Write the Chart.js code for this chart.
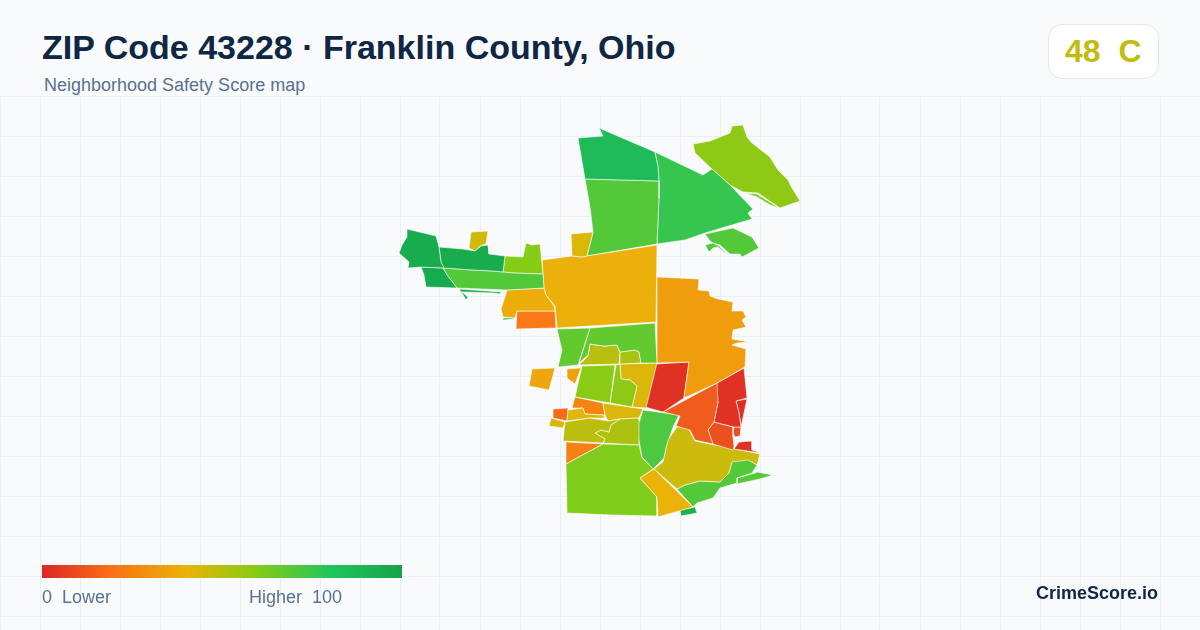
<!DOCTYPE html>
<html>
<head>
<meta charset="utf-8">
<title>ZIP Code 43228</title>
<script src="https://cdn.jsdelivr.net/npm/chart.js@4"></script>
<style>
html,body{margin:0;padding:0;background:#f8fafc;width:1200px;height:630px;overflow:hidden;font-family:"Liberation Sans",Arial,sans-serif}
#wrap{position:relative;width:1200px;height:630px}
canvas{position:absolute;left:0;top:96px}
.t{position:absolute;white-space:pre;line-height:1}
#title{left:42px;top:30px;font-size:34px;font-weight:700;color:#0f2744}
#sub{left:44px;top:76px;font-size:18px;color:#5a7190}
#badge{position:absolute;left:1048px;top:24px;width:109px;height:53px;background:#fff;border:1px solid #e2e8f0;border-radius:14px;box-sizing:content-box}
#grade{left:1065px;top:35px;font-size:32px;font-weight:700;color:#c1bd0e}
#bar{position:absolute;left:42px;top:565px;width:360px;height:13px}
#lo{left:42px;top:588px;font-size:18px;color:#5a7190}
#hi{left:249px;top:588px;font-size:18px;color:#5a7190}
#brand{right:42px;top:584px;font-size:18px;font-weight:700;color:#0f2744}
</style>
</head>
<body>
<div id="wrap">
<canvas id="c" width="1200" height="534"></canvas>
<div class="t" id="title">ZIP Code 43228 · Franklin County, Ohio</div>
<div class="t" id="sub">Neighborhood Safety Score map</div>
<div id="badge"></div>
<div class="t" id="grade">48  C</div>
<div id="bar"></div>
<div class="t" id="lo">0  Lower</div>
<div class="t" id="hi">Higher  100</div>
<div class="t" id="brand">CrimeScore.io</div>
</div>
<script>
// colour scale of the score
const scoreStops = [0, 20, 40, 60, 80, 100];
const scoreColors = ['#dc2626', '#f97316', '#eab308', '#84cc16', '#22c55e', '#16a34a'];

// neighbourhood scores
const westScores = [95, 96, 95, 70, 92, 60, 45, 43, 39, 38, 22, 92];
const northScores = [86, 70, 76, 58, 63, 70, 70];
const centerScores = [67, 67, 67, 50, 53, 53, 59, 58, 43, 34, 36];
const eastScores = [33, 3, 14, 3, 2, 11, 10, 3];
const southScores = [46, 40, 70, 70, 92, 71, 61, 24, 49, 52, 42, 43, 25, 18, 44];

// neighbourhood outlines (map units)
const westShapes = [
  [[407,229],[436,236],[439,247],[441,262],[444,268],[421,267],[408,268],[409,262],[399,253],[402,245],[407,237]],
  [[421,267],[443,268],[447,275],[457,288],[426,287],[424,275]],
  [[439,247],[463,249],[475,251],[481,246],[488,245],[489,254],[505,256],[503,272],[493,271],[473,270],[443,268],[441,262]],
  [[443,268],[473,270],[493,271],[513,273],[543,274],[544,288],[507,290],[457,288],[447,275]],
  [[459,289],[501,292],[501,294],[493,293],[462,292],[468,297],[466,300],[462,293]],
  [[505,256],[523,257],[526,243],[532,245],[540,244],[543,274],[513,273],[503,272]],
  [[471,232],[488,231],[486,244],[480,246],[475,251],[469,248]],
  [[571,234],[593,232],[587,256],[582,257],[572,256]],
  [[542,260],[572,256],[582,257],[587,256],[657,245],[656,322],[557,328],[555,306],[546,295],[544,288]],
  [[507,290],[544,288],[546,295],[554,306],[555,311],[517,311],[515,318],[503,317],[501,309],[504,300]],
  [[517,311],[555,311],[556,328],[516,329]],
  [[503,318],[514,318],[514,319],[503,320]]
];
const northShapes = [
  [[578,138],[603,136],[599,128],[655,152],[658,167],[659,181],[585,179]],
  [[585,179],[659,181],[659,198],[657,244],[587,256],[593,232],[590,207]],
  [[655,152],[703,175],[712,169],[730,185],[753,209],[748,213],[752,219],[705,233],[685,240],[657,244],[659,198],[659,181],[658,167]],
  [[693,144],[710,141],[730,133],[732,126],[743,125],[747,137],[752,143],[770,157],[778,170],[788,180],[792,188],[800,201],[780,208],[758,193],[743,192],[730,185],[712,169],[695,153]],
  [[745,193],[757,194],[779,208],[770,205],[757,197]],
  [[705,234],[733,228],[752,237],[759,248],[742,257],[740,254],[730,254],[720,245],[713,243],[710,241]],
  [[705,245],[713,243],[719,246],[726,253],[730,254],[725,253],[718,247],[713,248],[709,252]]
];
const centerShapes = [
  [[557,329],[590,328],[578,365],[558,367],[562,350],[560,342]],
  [[590,328],[655,323],[657,363],[641,363],[639,352],[635,350],[620,352],[617,345],[604,346],[590,344],[588,355],[579,363]],
  [[593,330],[609,329],[617,334],[625,343],[622,350],[620,352],[617,345],[604,346],[590,344]],
  [[590,344],[604,346],[617,345],[620,352],[619,364],[579,365],[588,356]],
  [[620,352],[635,350],[639,352],[641,363],[620,364]],
  [[617,332],[627,329],[628,340],[638,345],[636,350],[625,342]],
  [[582,366],[615,365],[610,403],[575,397]],
  [[616,365],[620,364],[621,379],[630,380],[637,386],[632,407],[610,403]],
  [[620,364],[657,363],[646,408],[632,407],[637,386],[630,380],[621,379]],
  [[567,369],[581,368],[575,384],[567,378]],
  [[532,369],[555,368],[549,390],[529,386]]
];
const eastShapes = [
  [[657,277],[699,279],[698,290],[709,291],[710,296],[718,299],[733,302],[732,311],[743,311],[746,317],[742,320],[746,327],[733,330],[732,339],[749,342],[737,343],[732,345],[746,349],[745,367],[717,383],[684,398],[689,362],[657,363]],
  [[656,364],[689,362],[684,398],[663,412],[645,407]],
  [[663,412],[717,383],[718,402],[714,422],[708,430],[713,444],[695,440],[690,430],[676,426],[680,416]],
  [[744,368],[747,398],[736,401],[739,413],[741,427],[734,427],[714,422],[718,402],[715,393],[717,383]],
  [[736,401],[747,399],[741,427],[739,413]],
  [[714,422],[733,427],[733,437],[734,446],[733,450],[713,444],[708,430]],
  [[734,427],[741,427],[740,436],[735,437],[733,433]],
  [[739,442],[752,441],[752,450],[761,453],[734,449]]
];
const southShapes = [
  [[677,427],[688,428],[695,441],[760,454],[757,465],[748,460],[732,462],[729,473],[720,482],[700,481],[685,485],[677,489],[654,469],[663,462],[668,440]],
  [[654,469],[693,507],[658,517],[657,497],[640,478]],
  [[677,489],[685,485],[700,481],[720,482],[729,473],[732,461],[748,459],[757,465],[752,473],[737,478],[737,483],[720,488],[713,498],[697,503],[693,507]],
  [[737,478],[755,473],[757,472],[773,475],[760,479],[737,484]],
  [[680,510],[695,507],[697,513],[681,516]],
  [[643,410],[679,415],[673,427],[666,448],[664,458],[653,469],[642,457],[639,440],[639,423]],
  [[566,464],[603,444],[639,445],[642,458],[653,469],[640,478],[657,497],[657,516],[612,515],[567,513]],
  [[566,442],[603,444],[566,464]],
  [[565,422],[590,418],[608,421],[620,419],[611,425],[609,432],[601,430],[595,433],[605,439],[603,443],[563,441]],
  [[620,419],[638,418],[640,423],[639,445],[603,443],[605,439],[595,433],[601,430],[609,432],[611,425]],
  [[568,410],[583,408],[585,414],[603,415],[605,418],[590,418],[567,421]],
  [[603,403],[643,409],[639,418],[620,419],[608,421],[605,415]],
  [[575,397],[603,403],[605,415],[585,414],[583,408],[572,408]],
  [[553,409],[568,408],[567,421],[553,418]],
  [[551,418],[565,422],[563,428],[549,426]]
];

function hex(c){return [1,3,5].map(i=>parseInt(c.substr(i,2),16));}
function scoreColor(s){
  let i=0; while(i<scoreStops.length-2 && s>scoreStops[i+1]) i++;
  const t=(s-scoreStops[i])/(scoreStops[i+1]-scoreStops[i]);
  const a=hex(scoreColors[i]),b=hex(scoreColors[i+1]);
  return 'rgb('+a.map((v,k)=>Math.round(v+(b[k]-v)*t)).join(',')+')';
}
document.getElementById('bar').style.background='linear-gradient(to right,'+
  scoreColors.map((c,i)=>c+' '+scoreStops[i]+'%').join(',')+')';

const groups=[[westShapes,westScores],[northShapes,northScores],[centerShapes,centerScores],[eastShapes,eastScores],[southShapes,southScores]];
const datasets=[];
groups.forEach(([shapes,scores])=>shapes.forEach((s,i)=>{
  const pts=s.concat([s[0]]).map(p=>({x:p[0],y:p[1]}));
  datasets.push({data:pts,showLine:true,fill:'shape',tension:0,pointRadius:0,pointHoverRadius:0,
    backgroundColor:scoreColor(scores[i]),borderColor:'rgba(255,255,255,0.85)',borderWidth:0.7,borderJoinStyle:'round',clip:false});
}));

function gridTicks(start,end){const a=[];for(let v=start;v<=end;v+=40)a.push({value:v});return a;}
const gridColor='#e9f0f5';
new Chart(document.getElementById('c'),{
  type:'scatter',
  data:{datasets},
  options:{
    responsive:false,animation:false,devicePixelRatio:1,
    layout:{padding:0},
    plugins:{legend:{display:false},tooltip:{enabled:false}},
    events:[],
    scales:{
      x:{type:'linear',min:0,max:1200,position:'top',
         afterBuildTicks:a=>{a.ticks=gridTicks(0,1200);},
         ticks:{display:false},border:{display:false},
         grid:{color:gridColor,lineWidth:1,drawTicks:false}},
      y:{type:'linear',min:96,max:630,reverse:true,
         afterBuildTicks:a=>{a.ticks=gridTicks(96,630);},
         ticks:{display:false},border:{display:false},
         grid:{color:gridColor,lineWidth:1,drawTicks:false}}
    }
  }
});
</script>
</body>
</html>
